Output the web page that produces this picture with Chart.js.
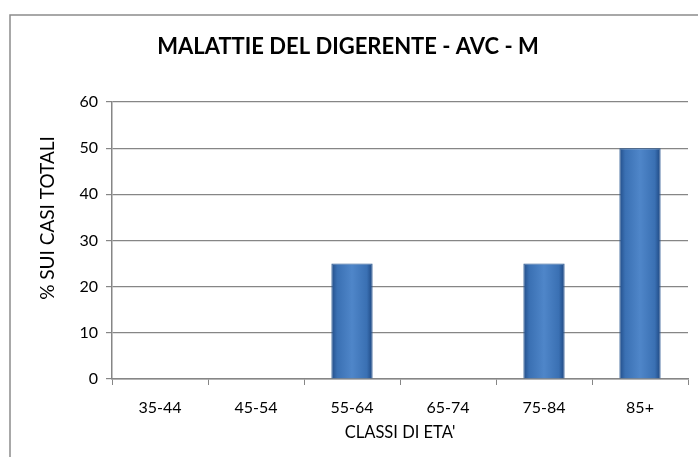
<!DOCTYPE html>
<html><head><meta charset="utf-8">
<script src="https://cdn.jsdelivr.net/npm/chart.js@4/dist/chart.umd.min.js"></script>
<style>html,body{margin:0;padding:0;background:#fff;}#wrap{width:698px;height:457px;position:relative;}</style>
</head><body><div id="wrap"><canvas id="c" width="698" height="457"></canvas></div>
<script>
const chartTitle = "MALATTIE DEL DIGERENTE - AVC - M";
const yTitle = "% SUI CASI TOTALI";
const xTitle = "CLASSI DI ETA'";
const categories = ["35-44","45-54","55-64","65-74","75-84","85+"];
const values = [0,0,25,0,25,50];
const yTicks = [0,10,20,30,40,50,60];

const FONT = "Lato, 'Open Sans', sans-serif";

const deco = {
  id:'deco',
  beforeDraw(c){
    const ctx=c.ctx;
    ctx.save();
    ctx.strokeStyle='#8c8c8c';ctx.lineWidth=1.5;
    ctx.beginPath();ctx.moveTo(10,460);ctx.lineTo(10,15);ctx.lineTo(700,15);ctx.stroke();
    ctx.restore();
  },
  afterDraw(c){
    const ctx=c.ctx;
    ctx.save();
    ctx.fillStyle='#000';
    ctx.textAlign='center';ctx.textBaseline='middle';
    ctx.font="bold 22px "+FONT;
    ctx.fillText(chartTitle,348,47);
    ctx.font="16.5px "+FONT;
    ctx.fillText(xTitle,400,433);
    ctx.translate(48,218);ctx.rotate(-Math.PI/2);
    ctx.font="19px "+FONT;
    ctx.fillText(yTitle,0,0);
    ctx.restore();
  }
};

function barFill(ctx){
  const ch=ctx.chart; const xs=ch.scales.x; const area=ch.chartArea;
  if(!xs||!area||ctx.dataIndex===undefined){return '#4a7ebb';}
  const cx=xs.getPixelForValue(ctx.dataIndex);
  const w=(area.width/categories.length)*0.43; const x0=cx-w/2;
  const g=ch.ctx.createLinearGradient(x0,0,x0+w,0);
  g.addColorStop(0,'#224d88');
  g.addColorStop(0.14,'#3a70b3');
  g.addColorStop(0.5,'#4f86c9');
  g.addColorStop(0.86,'#3a70b3');
  g.addColorStop(1,'#1d4680');
  return g;
}

new Chart(document.getElementById('c'),{
  type:'bar',
  data:{labels:categories,datasets:[{data:values,backgroundColor:barFill,borderColor:'#2a5892',borderWidth:1,barPercentage:0.43,categoryPercentage:1}]},
  options:{
    responsive:false,animation:false,
    layout:{padding:{left:0,top:102,right:10,bottom:38}},
    plugins:{legend:{display:false},tooltip:{enabled:false},title:{display:false}},
    scales:{
      x:{
        offset:true,
        grid:{offset:true,drawOnChartArea:false,color:'#868686',tickLength:6,drawTicks:true},
        border:{color:'#868686',width:1.5},
        ticks:{color:'#000',font:{family:FONT,size:16},padding:13},
        afterFit(s){s.height=40;}
      },
      y:{
        min:0,max:60,
        afterBuildTicks(s){s.ticks=yTicks.map(v=>({value:v}));},
        grid:{color:'#868686',lineWidth:1.2,tickLength:6},
        border:{color:'#868686',width:1.5},
        ticks:{color:'#000',font:{family:FONT,size:16},padding:8},
        afterFit(s){s.width=112;}
      }
    }
  },
  plugins:[deco]
});
</script></body></html>
